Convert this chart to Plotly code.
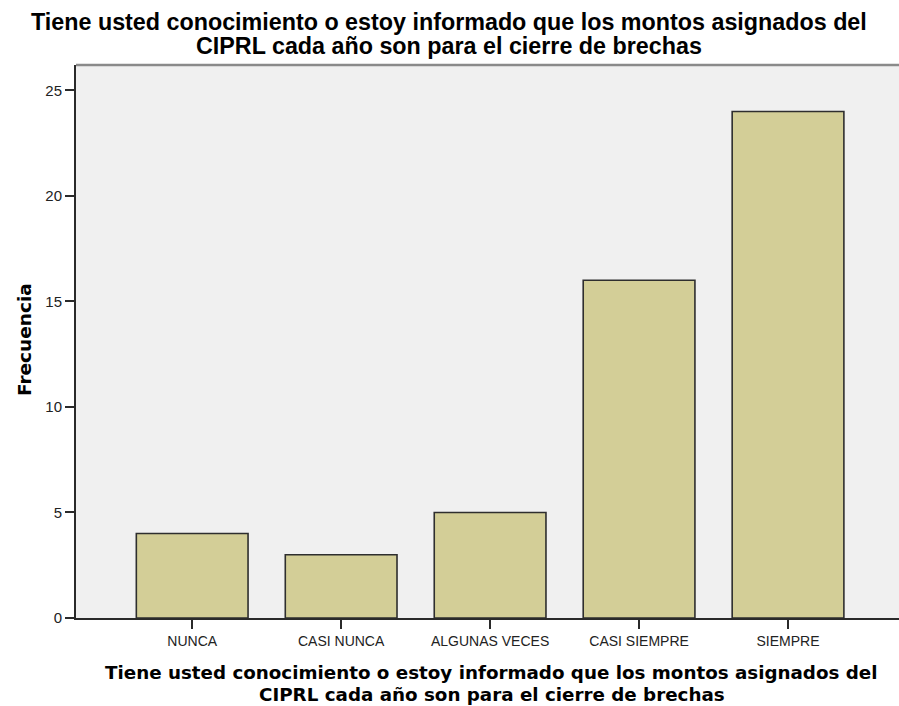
import plotly.graph_objects as go

categories = ["NUNCA", "CASI NUNCA", "ALGUNAS VECES", "CASI SIEMPRE", "SIEMPRE"]
frecuencia = [4, 3, 5, 16, 24]
y_ticks = [0, 5, 10, 15, 20, 25]

title_lines = [
    "Tiene usted conocimiento o estoy informado que los montos asignados del",
    "CIPRL cada año son para el cierre de brechas",
]
y_title = "Frecuencia"

W, H = 899, 706
ml, mr, mt, mb = 76, 0, 65, 88
pw = W - ml - mr
ph = H - mt - mb


def px_x(px):
    return (px - ml) / pw


def px_y(py):
    return (H - mb - py) / ph


fig = go.Figure()
fig.add_trace(go.Bar(
    x=categories, y=frecuencia,
    marker=dict(color="#D3CE97", line=dict(color="#2e2e2e", width=1.6)),
    width=0.75,
))

annotations = []
# top title, two lines
for txt, cy in zip(title_lines, [22, 46]):
    annotations.append(dict(
        text="<b>" + txt + "</b>", xref="paper", yref="paper",
        x=px_x(449), y=px_y(cy), xanchor="center", yanchor="middle",
        showarrow=False,
        font=dict(family="Liberation Sans, Arial", size=23.3, color="black"),
    ))
# x axis title, two lines
for txt, cy in zip(title_lines, [672, 694]):
    annotations.append(dict(
        text="<b>" + txt + "</b>", xref="paper", yref="paper",
        x=px_x(491.5), y=px_y(cy), xanchor="center", yanchor="middle",
        showarrow=False,
        font=dict(family="DejaVu Sans, Verdana", size=18.3, color="black"),
    ))
# y axis title
annotations.append(dict(
    text="<b>" + y_title + "</b>", xref="paper", yref="paper",
    x=px_x(24), y=px_y(340), textangle=-90,
    showarrow=False, xanchor="center", yanchor="middle",
    font=dict(family="DejaVu Sans, Verdana", size=18.5, color="black"),
))

fig.update_layout(
    width=W, height=H,
    margin=dict(l=ml, r=mr, t=mt, b=mb, autoexpand=False),
    paper_bgcolor="white",
    plot_bgcolor="#F0F0F0",
    showlegend=False,
    xaxis=dict(
        range=[-0.78, 4.745],
        showline=True, linecolor="#2a2a2a", linewidth=2,
        ticks="outside", ticklen=9, tickwidth=2, tickcolor="#2a2a2a",
        tickfont=dict(family="Liberation Sans, Arial", size=14, color="#222"),
        showgrid=False, zeroline=False, fixedrange=True,
    ),
    yaxis=dict(
        range=[0, 26.2],
        tickvals=y_ticks,
        showline=True, linecolor="#2a2a2a", linewidth=2,
        ticks="outside", ticklen=9, tickwidth=2, tickcolor="#2a2a2a",
        tickfont=dict(family="Liberation Sans, Arial", size=15, color="#222"),
        showgrid=False, zeroline=False,
    ),
    shapes=[dict(type="line", xref="paper", yref="paper", x0=0, x1=1, y0=1, y1=1,
                 line=dict(color="#8a8a8a", width=2.5))],
    annotations=annotations,
)

fig.write_html(
    "out.html",
    config={"displayModeBar": False},
    post_script="document.body.style.margin='0';document.body.style.overflow='hidden';",
)
